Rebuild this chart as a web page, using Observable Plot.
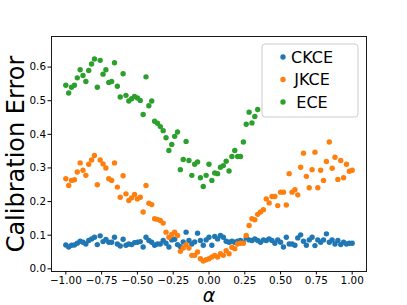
<!DOCTYPE html>
<html><head><meta charset="utf-8">
<script src="https://cdn.jsdelivr.net/npm/d3@7"></script>
<script src="https://cdn.jsdelivr.net/npm/@observablehq/plot@0.6"></script>
<style>body{margin:0;background:#fff} svg{display:block}</style>
</head><body><div id="chart"></div>
<script>
const alpha = [-1.00,-0.98,-0.96,-0.94,-0.92,-0.90,-0.88,-0.86,-0.84,-0.82,
-0.80,-0.78,-0.76,-0.74,-0.72,-0.70,-0.68,-0.66,-0.64,-0.62,
-0.60,-0.58,-0.56,-0.54,-0.52,-0.50,-0.48,-0.46,-0.44,-0.42,
-0.40,-0.38,-0.36,-0.34,-0.32,-0.30,-0.28,-0.26,-0.24,-0.22,
-0.20,-0.18,-0.16,-0.14,-0.12,-0.10,-0.08,-0.06,-0.04,-0.02,
0.00,0.02,0.04,0.06,0.08,0.10,0.12,0.14,0.16,0.18,
0.20,0.22,0.24,0.26,0.28,0.30,0.32,0.34,0.36,0.38,
0.40,0.42,0.44,0.46,0.48,0.50,0.52,0.54,0.56,0.58,
0.60,0.62,0.64,0.66,0.68,0.70,0.72,0.74,0.76,0.78,
0.80,0.82,0.84,0.86,0.88,0.90,0.92,0.94,0.96,0.98,
1.00];
const ckce = [0.071,0.065,0.070,0.071,0.076,0.082,0.079,0.074,0.084,0.089,
0.094,0.072,0.098,0.081,0.087,0.079,0.079,0.094,0.074,0.068,
0.088,0.070,0.074,0.072,0.078,0.079,0.081,0.065,0.094,0.084,
0.079,0.070,0.074,0.074,0.084,0.076,0.065,0.086,0.088,0.072,
0.066,0.080,0.109,0.084,0.074,0.080,0.106,0.084,0.070,0.086,
0.094,0.070,0.096,0.089,0.099,0.094,0.082,0.079,0.082,0.079,
0.082,0.084,0.079,0.092,0.086,0.084,0.089,0.084,0.079,0.086,
0.084,0.089,0.084,0.076,0.086,0.079,0.065,0.094,0.074,0.074,
0.070,0.092,0.101,0.082,0.070,0.086,0.094,0.069,0.086,0.079,
0.086,0.104,0.079,0.086,0.074,0.084,0.072,0.079,0.074,0.076,
0.076];
const jkce = [0.268,0.248,0.263,0.265,0.288,0.315,0.293,0.278,0.311,0.324,
0.337,0.250,0.324,0.312,0.300,0.268,0.263,0.315,0.243,0.213,
0.277,0.223,0.203,0.211,0.221,0.208,0.213,0.169,0.248,0.195,
0.191,0.149,0.147,0.144,0.136,0.109,0.094,0.102,0.109,0.099,
0.052,0.062,0.072,0.062,0.040,0.040,0.050,0.030,0.023,0.027,
0.030,0.035,0.040,0.035,0.045,0.040,0.054,0.045,0.064,0.060,
0.074,0.076,0.076,0.099,0.129,0.149,0.146,0.162,0.169,0.176,
0.208,0.196,0.215,0.215,0.188,0.228,0.228,0.190,0.283,0.228,
0.235,0.220,0.302,0.344,0.275,0.241,0.295,0.347,0.241,0.293,
0.263,0.319,0.377,0.299,0.332,0.266,0.322,0.271,0.311,0.290,
0.293];
const ece = [0.546,0.523,0.540,0.546,0.568,0.592,0.575,0.557,0.590,0.609,
0.624,0.540,0.620,0.579,0.592,0.554,0.557,0.613,0.543,0.511,
0.580,0.516,0.499,0.506,0.513,0.508,0.501,0.459,0.571,0.485,
0.499,0.439,0.433,0.423,0.411,0.390,0.352,0.370,0.394,0.407,
0.295,0.325,0.379,0.322,0.278,0.311,0.318,0.271,0.245,0.278,
0.311,0.263,0.285,0.283,0.302,0.307,0.320,0.291,0.334,0.352,
0.334,0.334,0.377,0.430,0.466,0.434,0.453,0.474];
const seriesNames = ["CKCE", "JKCE", "ECE"];
const colors = ["#1f77b4", "#ff7f0e", "#2ca02c"];
const xTicks = [-1.00, -0.75, -0.50, -0.25, 0.00, 0.25, 0.50, 0.75, 1.00];
const yTicks = [0.0, 0.1, 0.2, 0.3, 0.4, 0.5, 0.6];
const xLabel = "α";
const yLabel = "Calibration Error";

const rows = [];
[ckce, jkce, ece].forEach((vals, s) =>
  vals.forEach((v, i) => rows.push({alpha: alpha[i], value: v, series: seriesNames[s]})));

const font = "DejaVu Sans, sans-serif";
const plot = Plot.plot({
  width: 407, height: 305,
  marginLeft: 51, marginRight: 41, marginTop: 36, marginBottom: 34,
  style: {fontFamily: font, fontSize: "10.4px", color: "#000", background: "#fff"},
  x: {domain: [-1.1, 1.1], label: null},
  y: {domain: [-0.008, 0.691], label: null},
  color: {domain: seriesNames, range: colors},
  marks: [
    Plot.dot(rows, {x: "alpha", y: "value", fill: "series", r: 2.7}),
    Plot.frame({stroke: "#1a1a1a", strokeWidth: 1}),
    Plot.axisX({ticks: xTicks, tickSize: 3.5, tickPadding: 2, fontSize: 10.4, tickFormat: d3.format(".2f"), label: null}),
    Plot.axisY({ticks: yTicks, tickSize: 3.5, tickPadding: 2, fontSize: 10.4, tickFormat: d3.format(".1f"), label: null}),
    Plot.text([xLabel], {frameAnchor: "bottom", dy: 24, lineAnchor: "middle", textAnchor: "middle", fontSize: 19, fontStyle: "italic", fill: "#000"}),
    Plot.text([yLabel], {frameAnchor: "left", dx: -35, rotate: -90, textAnchor: "middle", lineAnchor: "middle", fontSize: 24, fill: "#000"})
  ]
});
document.getElementById("chart").appendChild(plot);

// legend (matplotlib-style, upper right, framealpha 0.8)
const svg = d3.select(plot);
const lg = svg.append("g").attr("font-family", font);
lg.append("rect").attr("x", 262).attr("y", 44).attr("width", 96).attr("height", 73)
  .attr("rx", 3).attr("fill", "#fff").attr("fill-opacity", 0.8).attr("stroke", "#cccccc").attr("stroke-width", 1);
seriesNames.forEach((name, i) => {
  const cy = 57 + i * 22.5;
  lg.append("circle").attr("cx", 283).attr("cy", cy).attr("r", 2.7).attr("fill", colors[i]);
  lg.append("text").attr("x", 312).attr("y", cy).attr("dy", "0.36em").attr("font-size", 16).attr("fill", "#000").text(name);
});
</script>
</body></html>
